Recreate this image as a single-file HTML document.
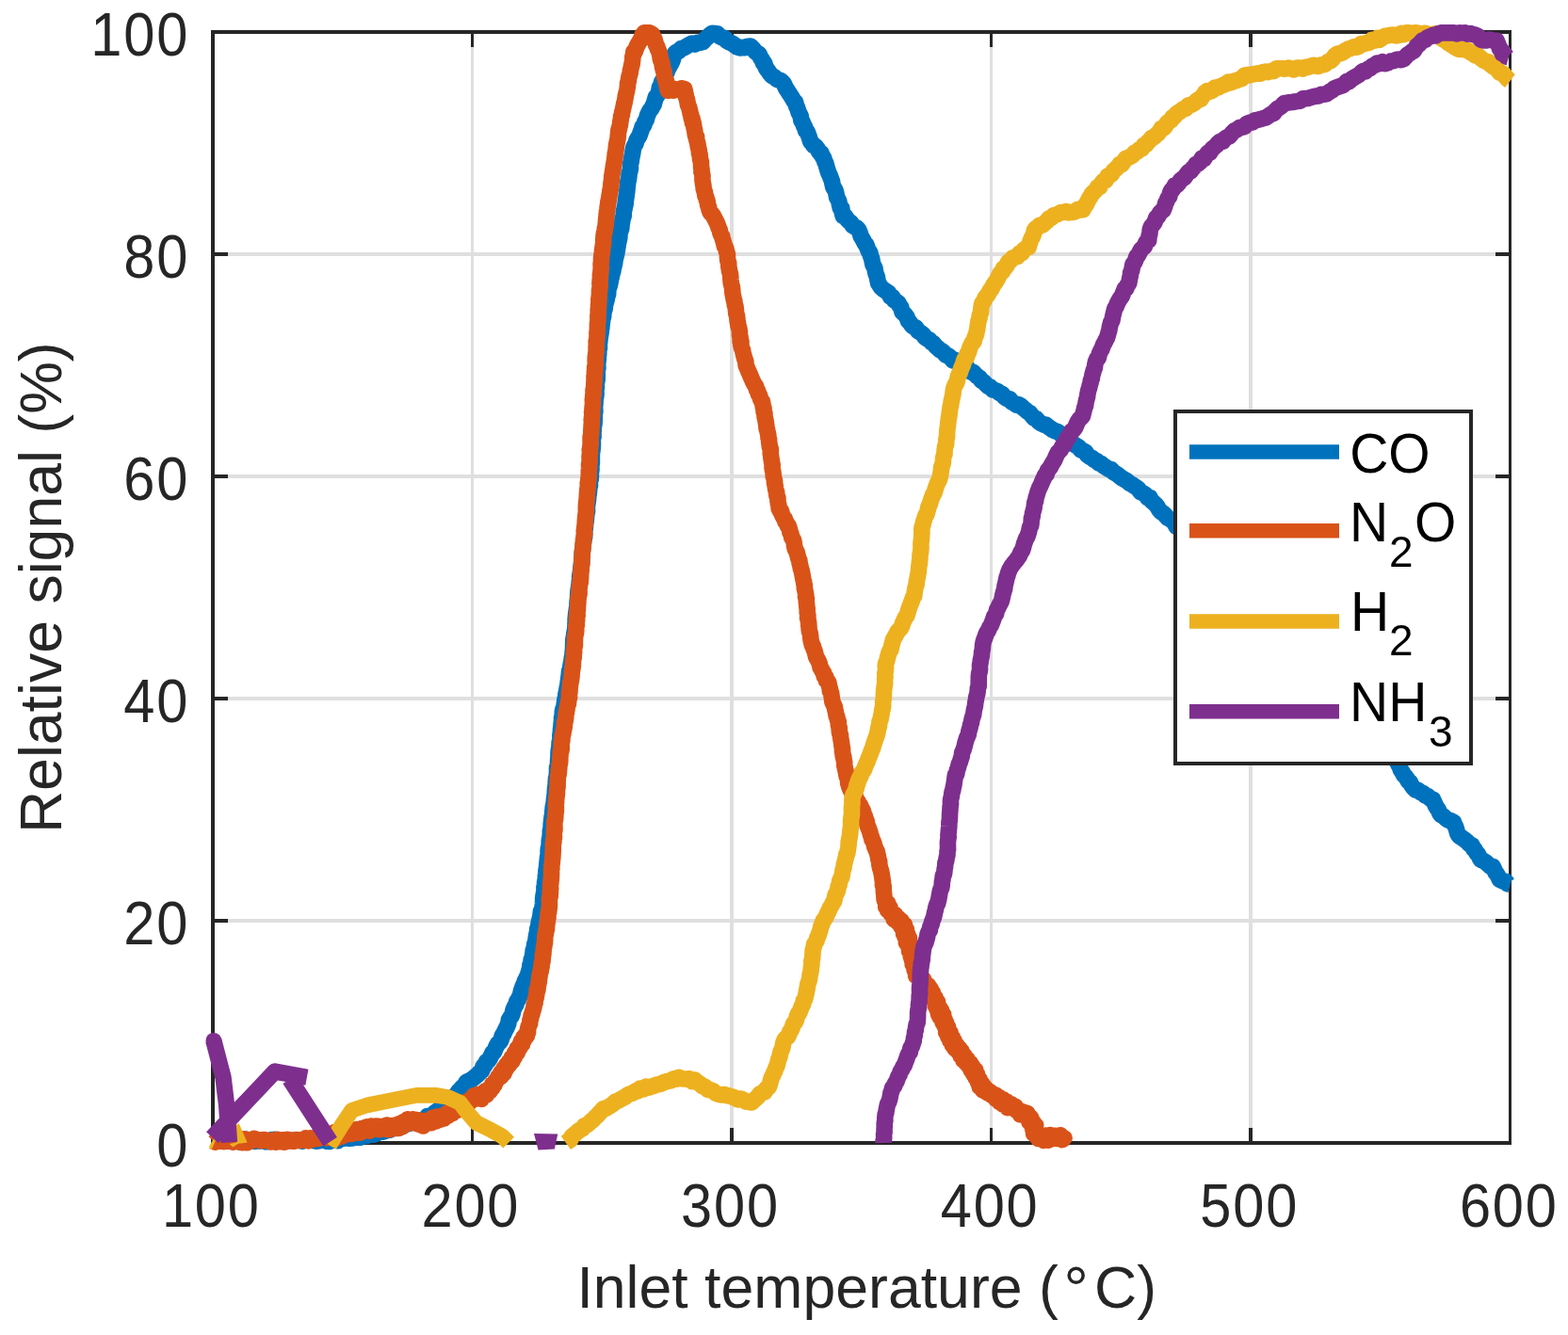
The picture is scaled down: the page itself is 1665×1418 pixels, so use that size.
<!DOCTYPE html>
<html lang="en"><head><meta charset="utf-8"><title>Relative signal vs inlet temperature</title>
<style>html,body{margin:0;padding:0;background:#fff}svg{display:block}text{font-family:"Liberation Sans",sans-serif}</style></head><body>
<svg width="1665" height="1418" viewBox="0 0 1665 1418">
<rect width="1665" height="1418" fill="#fff"/>
<g shape-rendering="crispEdges">
<path d="M500,36h3v1176h-3z M775,36h4v1176h-4z M1051,36h3v1176h-3z M1326,36h4v1176h-4z M228,268h1374v4h-1374z M228,504h1374v4h-1374z M228,740h1374v4h-1374z M228,976h1374v4h-1374z" fill="#dfdfdf"/>
<path d="M500,36h3v14h-3z M500,1198h3v14h-3z M775,36h4v14h-4z M775,1198h4v14h-4z M1051,36h3v14h-3z M1051,1198h3v14h-3z M1326,36h4v14h-4z M1326,1198h4v14h-4z M228,268h14v4h-14z M1588,268h14v4h-14z M228,504h14v4h-14z M1588,504h14v4h-14z M228,740h14v4h-14z M1588,740h14v4h-14z M228,976h14v4h-14z M1588,976h14v4h-14z" fill="#262626"/>
<path d="M224,32h1381v4h-1381z M224,1212h1381v4h-1381z M224,32h4v1184h-4z M1602,32h3v1184h-3z" fill="#262626"/>
</g>
<g fill="#262626" font-size="62.7" letter-spacing="1.9">
<text transform="translate(224.3,1302.8) scale(0.95,1.03)" text-anchor="middle">100</text>
<text transform="translate(499.9,1302.8) scale(0.95,1.03)" text-anchor="middle">200</text>
<text transform="translate(775.5,1302.8) scale(0.95,1.03)" text-anchor="middle">300</text>
<text transform="translate(1051.1,1302.8) scale(0.95,1.03)" text-anchor="middle">400</text>
<text transform="translate(1326.7,1302.8) scale(0.95,1.03)" text-anchor="middle">500</text>
<text transform="translate(1602.3,1302.8) scale(0.95,1.03)" text-anchor="middle">600</text>
<text transform="translate(201.1,1239.4) scale(0.95,1.03)" text-anchor="end">0</text>
<text transform="translate(201.1,1003.4) scale(0.95,1.03)" text-anchor="end">20</text>
<text transform="translate(201.1,767.4) scale(0.95,1.03)" text-anchor="end">40</text>
<text transform="translate(201.1,531.4) scale(0.95,1.03)" text-anchor="end">60</text>
<text transform="translate(201.1,295.4) scale(0.95,1.03)" text-anchor="end">80</text>
<text transform="translate(201.1,59.4) scale(0.95,1.03)" text-anchor="end">100</text>
</g>
<g fill="#262626" font-size="62.6">
<text transform="translate(612.4,1389) scale(1,1.005)">Inlet temperature (</text>
<text transform="translate(1129.5,1392) scale(1,1.005)" font-size="66">°</text>
<text transform="translate(1162,1389) scale(1,1.005)">C)</text>
<text transform="translate(65,624.2) rotate(-90) scale(1,1.005)" text-anchor="middle">Relative signal (%)</text>
</g>
<path d="M226.0,1211.5 L229.0,1211.7 L232.3,1211.4 L235.0,1211.7 L237.8,1211.5 L241.1,1212.3 L243.7,1211.0 L246.7,1212.3 L250.1,1210.3 L253.3,1212.7 L256.1,1211.8 L258.8,1210.2 L262.0,1210.4 L264.7,1210.8 L267.5,1211.4 L270.7,1212.4 L273.7,1211.9 L276.6,1211.9 L279.5,1210.9 L282.8,1212.8 L285.6,1212.0 L288.2,1210.8 L291.1,1210.4 L294.3,1211.2 L297.3,1211.2 L300.3,1212.4 L302.6,1210.7 L306.1,1211.4 L309.1,1211.2 L311.5,1211.8 L314.9,1210.9 L317.4,1211.1 L320.9,1212.2 L323.3,1210.8 L326.2,1210.4 L329.6,1210.7 L332.4,1211.4 L335.1,1212.1 L338.0,1211.9 L340.9,1211.3 L343.9,1210.9 L347.4,1212.3 L349.9,1212.5 L352.8,1210.9 L356.2,1211.2 L358.7,1211.7 L361.8,1209.5 L365.2,1209.3 L367.9,1208.3 L370.7,1209.3 L373.8,1209.0 L376.9,1208.2 L380.3,1208.0 L383.2,1208.2 L386.0,1205.5 L389.6,1206.5 L392.3,1204.1 L395.7,1205.2 L398.5,1204.5 L402.0,1202.8 L404.7,1200.7 L407.5,1202.1 L410.6,1200.7 L413.7,1200.2 L416.9,1198.0 L419.7,1198.3 L422.7,1196.3 L426.0,1197.1 L429.1,1194.8 L432.1,1193.9 L434.4,1193.4 L437.5,1192.2 L440.2,1192.3 L443.3,1190.9 L446.0,1192.2 L449.2,1190.9 L451.7,1188.9 L453.9,1185.6 L456.5,1186.0 L459.6,1184.3 L461.8,1181.7 L464.3,1180.0 L466.5,1178.8 L468.6,1175.7 L471.3,1174.7 L473.5,1172.2 L475.8,1170.9 L477.8,1168.3 L480.4,1166.9 L482.3,1164.8 L484.8,1162.3 L486.8,1159.3 L488.9,1157.4 L490.7,1155.0 L493.4,1153.1 L495.3,1149.3 L498.0,1148.1 L500.4,1147.0 L502.8,1145.1 L505.5,1143.0 L508.4,1140.3 L510.2,1138.5 L511.8,1137.1 L513.2,1132.3 L514.9,1131.5 L516.5,1127.7 L518.6,1126.5 L519.9,1124.6 L521.5,1121.5 L522.9,1118.4 L524.7,1117.2 L526.2,1113.3 L527.5,1110.6 L528.7,1108.6 L530.6,1107.0 L532.0,1104.8 L533.2,1100.2 L534.8,1098.0 L535.8,1095.6 L537.2,1093.0 L538.2,1091.0 L539.8,1087.2 L540.4,1083.3 L542.1,1080.5 L543.2,1079.1 L544.1,1076.8 L545.1,1072.3 L546.6,1069.2 L548.0,1066.9 L548.8,1063.6 L550.2,1061.8 L551.2,1059.6 L552.4,1057.5 L553.4,1052.7 L554.4,1049.8 L555.1,1047.8 L556.7,1044.2 L557.5,1041.8 L558.8,1039.4 L559.8,1037.2 L560.8,1034.5 L562.2,1029.8 L562.8,1028.5 L562.9,1024.9 L563.8,1023.1 L564.2,1019.3 L565.2,1017.0 L565.8,1013.1 L566.2,1009.5 L566.9,1008.2 L567.4,1005.0 L567.8,1002.5 L568.9,999.8 L569.2,996.3 L569.6,993.7 L570.6,989.3 L570.7,986.6 L571.6,984.5 L572.2,979.6 L573.0,976.8 L573.6,974.1 L573.9,972.8 L574.4,968.2 L575.2,966.7 L576.0,963.7 L576.4,960.2 L576.7,956.2 L576.6,954.4 L577.0,952.0 L577.5,948.5 L578.0,945.7 L577.9,942.3 L578.6,940.7 L578.5,937.6 L579.3,933.8 L579.4,930.0 L579.7,927.9 L580.1,923.7 L580.6,922.0 L580.6,919.8 L581.0,916.1 L581.4,912.0 L581.6,910.0 L582.2,908.4 L582.1,904.3 L582.3,901.2 L583.1,899.5 L583.2,895.0 L583.3,892.9 L584.1,888.6 L584.4,885.4 L584.3,883.0 L585.0,880.3 L585.1,878.1 L585.2,875.5 L585.6,871.9 L586.0,868.2 L586.5,865.9 L586.7,862.8 L587.1,859.2 L587.2,857.5 L587.9,854.3 L588.3,851.6 L588.6,847.6 L588.9,846.2 L589.3,842.0 L589.3,840.6 L589.5,837.8 L590.3,832.6 L590.2,831.2 L590.5,826.7 L591.2,824.6 L591.4,820.8 L591.5,819.4 L591.5,815.1 L592.2,814.1 L592.6,809.0 L592.6,807.8 L592.9,804.6 L593.0,800.1 L593.2,797.1 L593.7,795.4 L594.0,791.5 L594.1,788.7 L594.8,787.8 L595.1,782.5 L594.8,781.8 L595.3,778.3 L595.5,774.6 L595.9,771.6 L596.2,767.6 L596.6,766.8 L596.5,762.8 L597.2,759.8 L597.3,756.2 L598.0,752.9 L598.7,752.0 L599.1,749.2 L599.6,745.1 L600.0,742.5 L600.8,740.3 L600.8,737.7 L601.6,734.4 L602.2,730.5 L602.7,728.8 L603.1,725.6 L603.6,721.7 L604.1,718.0 L604.3,716.1 L604.6,712.8 L605.5,710.6 L605.7,708.5 L606.5,704.0 L607.0,701.7 L607.4,698.3 L608.0,696.0 L608.1,693.3 L608.6,688.4 L608.6,687.3 L608.7,683.4 L608.8,679.9 L609.3,676.7 L609.5,675.8 L610.0,671.8 L610.6,669.0 L610.9,666.2 L611.0,661.7 L611.2,660.5 L611.1,658.0 L611.5,653.8 L611.8,650.9 L612.4,646.7 L612.9,644.7 L612.9,642.2 L613.1,638.4 L613.5,636.1 L613.6,633.5 L613.9,628.7 L614.2,625.8 L614.4,624.6 L614.9,621.9 L615.4,616.6 L615.9,615.9 L615.6,612.8 L616.2,608.6 L616.9,605.0 L616.9,603.7 L617.3,599.5 L617.8,597.3 L617.9,592.5 L618.2,590.3 L618.3,586.2 L618.8,583.3 L619.1,581.7 L619.4,577.6 L619.8,575.0 L620.2,572.2 L620.7,570.3 L620.8,565.4 L620.7,564.0 L621.5,560.3 L621.6,556.4 L622.1,554.2 L622.4,551.3 L622.8,547.2 L622.8,546.2 L623.6,543.0 L623.4,537.9 L623.8,535.8 L624.4,532.0 L624.7,528.9 L624.7,527.5 L625.3,524.3 L625.6,520.9 L625.8,517.6 L626.5,515.9 L626.4,511.0 L627.2,509.3 L627.5,505.3 L627.4,502.3 L627.9,499.6 L628.0,498.2 L627.9,494.0 L628.4,491.9 L628.4,487.4 L628.4,485.7 L628.5,480.6 L629.0,478.6 L629.3,475.1 L629.5,471.5 L629.4,469.9 L629.5,466.0 L630.1,463.9 L630.0,459.5 L630.2,457.9 L630.4,453.3 L630.8,451.5 L631.1,449.4 L631.3,445.0 L631.4,441.7 L631.3,438.9 L631.9,437.1 L631.6,432.7 L631.9,429.6 L632.1,426.7 L632.2,424.1 L632.8,421.0 L633.1,418.0 L632.8,415.5 L633.5,411.2 L633.2,408.7 L633.7,405.8 L634.2,403.0 L634.3,398.4 L634.3,397.3 L634.2,392.4 L634.9,391.5 L634.7,387.7 L634.9,385.0 L635.4,380.6 L635.4,379.0 L635.8,375.9 L635.9,371.8 L636.5,369.6 L636.4,366.2 L636.7,363.6 L637.1,359.8 L637.4,357.4 L637.9,354.7 L638.3,351.8 L638.8,348.1 L639.0,345.3 L639.6,341.5 L639.7,337.7 L640.6,336.9 L641.0,331.8 L641.5,329.5 L642.2,327.9 L642.7,323.2 L643.4,321.1 L644.5,316.9 L644.6,314.6 L645.6,312.8 L645.9,307.8 L646.6,305.1 L647.3,303.4 L648.2,299.1 L648.5,296.3 L649.2,294.5 L649.9,291.0 L650.9,287.8 L651.1,285.9 L652.2,281.5 L652.6,280.1 L653.2,275.2 L653.6,274.1 L654.7,269.7 L655.1,267.1 L655.4,265.4 L656.2,260.5 L656.3,258.1 L657.1,256.0 L657.8,252.6 L658.0,248.4 L658.7,245.7 L659.5,243.5 L659.9,241.7 L660.2,237.6 L660.7,235.3 L661.1,232.4 L662.2,229.5 L662.2,225.1 L663.1,221.7 L663.3,219.7 L664.1,217.0 L664.4,213.3 L664.8,210.6 L665.3,206.8 L665.7,204.2 L665.9,202.0 L666.1,199.8 L666.6,195.5 L666.9,192.5 L667.5,190.6 L667.9,187.6 L668.1,183.9 L668.8,182.4 L669.5,178.6 L669.3,174.9 L670.2,171.6 L670.5,169.2 L670.7,167.8 L671.7,162.9 L672.1,160.3 L672.4,158.1 L673.6,154.8 L674.9,152.8 L676.1,148.8 L677.6,146.3 L679.0,144.1 L680.1,140.7 L681.4,137.2 L682.2,134.4 L683.7,133.2 L684.7,129.6 L686.3,127.2 L687.2,123.5 L688.5,120.4 L690.0,117.4 L691.7,115.5 L692.8,113.2 L694.2,110.9 L695.3,106.8 L696.4,103.1 L697.5,102.1 L698.9,99.5 L699.8,96.2 L700.4,92.7 L701.7,90.7 L702.6,87.2 L703.9,85.5 L705.4,82.3 L706.2,80.0 L708.0,76.7 L708.9,73.9 L710.1,71.8 L711.9,68.5 L713.0,66.7 L714.0,64.3 L715.5,59.6 L716.4,57.0 L718.0,55.5 L720.7,54.4 L723.6,51.4 L726.2,51.0 L729.1,49.1 L732.1,47.4 L735.0,46.0 L738.0,47.1 L740.8,45.4 L743.1,45.3 L746.1,44.7 L748.6,42.0 L751.5,39.2 L753.9,37.0 L756.1,35.4 L759.2,35.5 L761.6,35.7 L764.2,38.6 L766.6,40.0 L769.4,40.3 L771.6,43.2 L774.2,44.8 L777.3,46.0 L780.1,48.0 L782.9,50.0 L785.8,51.0 L788.6,50.4 L791.6,50.6 L794.2,49.2 L797.1,49.0 L799.5,51.5 L801.6,54.4 L804.2,56.4 L806.2,57.6 L807.7,61.5 L809.1,63.2 L810.4,66.8 L811.7,67.2 L813.3,72.1 L814.7,74.0 L816.1,75.8 L817.4,77.9 L819.8,80.6 L822.7,82.1 L825.2,84.6 L828.2,85.1 L830.8,87.2 L832.3,88.8 L834.4,93.5 L835.9,95.7 L837.3,98.0 L838.8,100.2 L840.6,103.0 L841.9,105.2 L843.1,107.3 L844.7,108.7 L845.4,112.3 L846.6,114.5 L848.1,119.3 L848.9,120.9 L850.1,123.0 L850.9,128.0 L852.2,129.8 L853.7,133.8 L854.5,134.6 L855.6,139.1 L857.2,140.0 L858.3,143.1 L859.2,145.3 L860.6,150.2 L862.1,151.7 L864.0,154.7 L865.8,155.1 L868.1,158.1 L870.1,161.9 L871.9,162.4 L873.7,166.9 L874.6,167.6 L875.6,171.2 L876.9,173.8 L877.7,176.8 L879.0,181.2 L879.9,183.8 L881.3,186.6 L882.0,188.7 L883.5,192.6 L884.0,195.3 L884.8,199.0 L886.0,200.6 L886.9,202.1 L887.9,205.5 L888.6,209.6 L889.4,211.0 L890.8,213.7 L891.4,217.2 L892.3,220.9 L893.8,221.4 L894.3,226.1 L895.2,229.3 L897.3,229.5 L899.4,232.8 L901.3,234.9 L903.6,236.6 L905.4,239.6 L907.6,240.9 L909.8,242.1 L911.7,244.1 L913.0,247.0 L914.2,251.0 L915.9,253.8 L916.9,255.6 L918.3,258.5 L919.8,259.8 L921.3,264.2 L922.7,267.3 L923.8,268.1 L924.5,271.8 L925.6,274.5 L926.3,278.2 L927.0,281.3 L928.1,283.2 L929.0,285.2 L929.4,288.2 L930.2,291.0 L931.4,294.3 L931.9,297.3 L932.6,300.7 L933.5,302.1 L935.4,305.1 L937.8,307.3 L939.2,308.2 L941.3,309.6 L943.6,311.1 L945.4,315.0 L947.7,315.5 L949.5,319.1 L951.2,319.9 L953.9,321.7 L955.1,324.6 L956.7,326.5 L958.0,331.4 L960.0,333.2 L961.3,334.5 L963.0,336.9 L964.5,341.2 L966.0,342.2 L968.0,345.4 L969.8,346.9 L972.6,348.0 L974.8,351.6 L977.6,353.4 L980.0,355.1 L982.1,358.1 L984.5,359.9 L986.6,360.8 L988.8,363.4 L991.0,364.6 L993.2,367.3 L995.5,369.3 L998.1,371.9 L1000.2,372.7 L1002.1,374.4 L1004.5,377.2 L1006.8,377.8 L1009.2,379.8 L1011.8,382.9 L1014.5,382.6 L1016.8,383.8 L1019.7,385.7 L1022.1,388.1 L1024.7,387.6 L1026.8,390.0 L1028.8,393.3 L1031.2,395.1 L1033.5,395.2 L1035.6,397.8 L1037.6,399.6 L1040.2,401.3 L1042.2,404.3 L1044.5,405.6 L1046.8,408.0 L1049.4,410.6 L1051.5,411.0 L1054.1,413.9 L1056.7,414.6 L1059.5,415.7 L1061.6,417.6 L1064.1,418.4 L1066.5,421.5 L1069.3,423.5 L1072.1,423.8 L1074.3,427.0 L1076.5,428.0 L1079.3,430.2 L1081.9,429.9 L1084.2,431.2 L1086.5,433.5 L1088.7,435.1 L1091.2,437.5 L1093.6,438.7 L1096.0,441.7 L1098.2,444.3 L1100.6,444.9 L1103.0,447.9 L1105.4,449.7 L1108.3,451.1 L1110.8,451.1 L1113.1,453.4 L1115.4,454.9 L1117.9,456.6 L1120.7,457.9 L1123.1,458.7 L1125.4,460.4 L1128.4,462.7 L1130.5,464.8 L1132.9,466.0 L1135.6,469.0 L1137.9,469.8 L1140.8,472.1 L1143.0,473.5 L1145.3,474.7 L1147.6,477.9 L1150.3,478.8 L1152.7,480.0 L1154.6,483.4 L1157.0,485.1 L1159.8,486.7 L1161.8,488.3 L1164.6,489.7 L1166.7,491.9 L1169.5,492.6 L1172.1,495.0 L1174.6,496.4 L1177.1,498.3 L1179.9,498.5 L1182.0,501.3 L1184.4,502.7 L1187.1,504.4 L1189.6,506.6 L1191.5,507.9 L1194.2,509.5 L1196.5,510.6 L1199.2,513.1 L1201.3,514.2 L1203.8,515.8 L1206.4,517.5 L1208.6,519.1 L1211.1,522.6 L1213.6,523.7 L1216.5,525.6 L1218.6,528.5 L1221.1,528.6 L1222.7,531.9 L1225.0,533.9 L1227.0,535.7 L1229.0,538.1 L1230.8,541.5 L1233.1,543.9 L1235.3,545.0 L1237.7,547.7 L1240.2,550.3 L1242.1,551.3 L1244.8,553.1 L1246.8,554.7 L1249.1,559.3 L1251.5,559.4 L1253.4,562.3 L1255.5,564.4 L1257.7,568.1 L1259.3,569.5 L1261.4,570.0 L1263.6,573.9 L1266.1,574.5 L1267.8,576.4 L1270.0,579.8 L1272.0,581.5 L1274.4,585.0 L1276.1,586.0 L1278.5,589.2 L1280.8,590.4 L1282.7,592.9 L1284.8,594.1 L1286.5,596.1 L1289.1,598.7 L1290.9,600.5 L1292.9,602.4 L1295.2,604.9 L1297.3,607.4 L1299.1,610.1 L1301.3,611.7 L1303.2,613.3 L1305.8,616.1 L1307.4,618.0 L1309.7,622.2 L1311.7,624.1 L1313.9,625.1 L1316.2,627.2 L1317.8,629.7 L1320.3,632.1 L1322.2,635.1 L1324.6,637.4 L1326.4,639.1 L1328.7,639.6 L1330.4,641.7 L1332.5,643.7 L1334.8,647.6 L1336.8,649.1 L1338.7,650.5 L1341.4,652.2 L1343.2,656.4 L1345.5,658.4 L1347.3,660.7 L1349.7,662.8 L1351.9,663.2 L1354.0,666.2 L1355.9,667.9 L1358.1,669.5 L1360.0,672.2 L1362.0,674.7 L1364.2,678.1 L1366.1,679.8 L1368.2,681.0 L1370.7,683.3 L1372.2,685.5 L1374.8,687.3 L1376.8,690.4 L1378.9,691.6 L1380.6,693.6 L1382.9,696.6 L1384.7,698.9 L1387.1,700.6 L1389.3,704.4 L1391.1,706.4 L1393.3,708.2 L1395.3,711.0 L1397.6,713.1 L1399.5,713.8 L1401.9,715.4 L1403.7,718.8 L1406.3,720.1 L1407.9,722.3 L1410.5,724.0 L1412.3,726.7 L1414.4,728.5 L1416.5,732.4 L1418.8,733.9 L1420.6,735.9 L1422.5,738.7 L1424.9,739.9 L1427.0,742.0 L1428.9,743.7 L1431.1,746.7 L1433.2,747.5 L1435.3,750.7 L1437.4,753.3 L1439.7,754.3 L1441.5,758.6 L1443.8,759.0 L1445.9,763.0 L1447.7,764.8 L1449.7,767.3 L1452.0,767.5 L1454.3,770.7 L1456.5,773.4 L1458.5,774.7 L1460.7,775.7 L1462.7,779.6 L1464.4,782.0 L1466.6,783.4 L1469.0,784.7 L1470.7,788.0 L1472.6,790.0 L1475.2,792.0 L1476.2,795.5 L1478.0,798.2 L1479.2,801.3 L1480.7,802.1 L1481.9,804.7 L1483.0,808.1 L1485.0,812.1 L1485.9,813.1 L1487.4,817.6 L1489.2,820.3 L1490.5,823.0 L1492.2,824.6 L1494.2,827.4 L1495.4,829.8 L1497.2,830.7 L1498.8,834.0 L1500.6,836.4 L1503.2,839.1 L1505.5,839.2 L1508.5,841.6 L1510.7,842.3 L1513.8,845.2 L1516.1,845.7 L1519.1,848.5 L1521.6,849.2 L1522.7,851.9 L1524.1,855.1 L1525.8,858.1 L1527.2,859.8 L1528.7,863.6 L1530.1,865.5 L1532.6,866.9 L1535.3,869.4 L1537.9,871.1 L1540.8,871.8 L1543.6,873.4 L1544.6,876.5 L1545.5,877.7 L1546.5,880.8 L1547.7,885.1 L1548.7,887.0 L1550.0,888.4 L1552.5,889.9 L1555.4,891.9 L1557.8,893.9 L1560.7,897.0 L1563.2,897.9 L1564.5,901.4 L1566.1,902.6 L1567.9,906.1 L1569.7,907.7 L1571.5,911.8 L1572.6,913.5 L1575.3,914.4 L1577.7,915.8 L1580.3,918.1 L1582.9,920.6 L1585.3,920.6 L1586.7,923.7 L1588.1,926.9 L1589.1,927.9 L1590.8,930.8 L1592.2,934.0 L1593.6,934.8 L1596.0,935.9 L1598.9,936.2 L1600.9,938.8 L1603.6,939.5" fill="none" stroke="#0072bd" stroke-width="17.6" stroke-linejoin="round" stroke-linecap="butt"/>
<ellipse cx="255.6" cy="1219" rx="6.2" ry="2.8" fill="#0072bd"/>
<path d="M226.0,1212.0 L228.3,1213.0 L230.7,1210.1 L232.7,1212.2 L235.2,1211.6 L237.8,1212.7 L240.0,1211.3 L242.2,1212.0 L244.7,1211.7 L247.0,1213.1 L249.5,1211.4 L252.1,1212.4 L254.9,1209.7 L256.8,1213.7 L259.6,1209.9 L262.3,1213.8 L264.3,1210.7 L267.0,1211.8 L269.8,1209.4 L272.6,1210.6 L274.8,1210.7 L277.4,1211.7 L280.1,1210.5 L282.4,1211.1 L285.2,1212.0 L287.8,1212.9 L289.9,1211.0 L292.7,1213.3 L294.7,1210.4 L297.4,1212.7 L300.2,1210.7 L302.2,1213.3 L304.9,1210.6 L307.3,1212.0 L309.9,1211.1 L312.3,1212.2 L314.8,1210.7 L317.2,1211.5 L319.8,1210.7 L322.3,1211.1 L324.7,1208.9 L327.6,1211.9 L329.7,1208.8 L331.0,1210.3 L332.7,1210.0 L334.9,1207.9 L337.4,1209.5 L340.0,1205.9 L342.5,1208.2 L344.5,1205.9 L346.6,1208.7 L347.7,1207.9 L348.6,1207.7 L349.9,1205.2 L351.1,1206.7 L352.9,1208.8 L353.6,1207.3 L354.8,1202.9 L356.1,1206.7 L357.8,1208.8 L358.7,1205.7 L359.7,1202.0 L361.1,1204.0 L363.0,1207.0 L364.4,1203.5 L367.8,1204.9 L368.6,1204.4 L369.4,1201.0 L371.3,1203.8 L372.9,1204.3 L373.6,1203.3 L374.5,1200.2 L375.8,1201.3 L377.7,1203.4 L378.9,1199.7 L382.7,1203.1 L383.5,1201.1 L384.0,1198.5 L387.0,1199.7 L389.2,1196.9 L392.6,1201.2 L393.4,1198.6 L394.3,1196.1 L396.2,1197.4 L397.4,1199.2 L399.7,1196.1 L401.0,1196.3 L402.6,1199.7 L405.6,1196.5 L408.1,1199.1 L409.0,1197.7 L410.7,1195.1 L412.0,1197.7 L412.9,1199.9 L416.0,1195.7 L418.8,1198.7 L419.5,1195.0 L423.1,1198.5 L424.0,1193.6 L425.7,1194.3 L427.8,1196.6 L427.8,1193.1 L428.4,1191.5 L429.9,1192.2 L432.2,1193.2 L432.4,1191.5 L432.9,1188.9 L435.9,1191.2 L438.5,1188.7 L439.6,1192.7 L442.6,1189.6 L443.9,1194.1 L447.0,1190.3 L448.3,1193.0 L449.2,1196.0 L450.5,1192.6 L454.0,1193.1 L454.5,1189.8 L458.5,1192.6 L458.9,1189.8 L459.2,1187.2 L461.0,1189.2 L462.8,1191.0 L463.5,1188.1 L463.5,1186.1 L467.5,1189.2 L467.7,1185.7 L470.1,1187.0 L471.5,1188.1 L471.9,1184.3 L472.6,1183.9 L474.1,1185.3 L475.9,1185.1 L476.0,1182.3 L476.2,1181.4 L478.6,1181.1 L480.7,1182.4 L481.2,1180.8 L480.7,1178.5 L485.2,1179.5 L485.2,1177.7 L485.5,1175.0 L489.5,1176.6 L490.0,1172.3 L492.0,1173.6 L494.3,1174.0 L494.5,1172.2 L494.5,1170.2 L496.6,1171.2 L498.3,1171.4 L499.0,1168.2 L502.8,1168.0 L503.1,1163.8 L506.4,1166.0 L507.4,1162.6 L509.3,1165.2 L511.3,1167.4 L512.6,1162.9 L516.5,1163.1 L515.5,1163.1 L515.2,1158.8 L517.7,1159.5 L519.9,1159.4 L519.1,1156.6 L518.7,1156.7 L522.7,1155.8 L522.7,1151.4 L525.3,1151.9 L526.0,1148.2 L528.7,1146.1 L528.7,1144.1 L532.0,1143.4 L531.7,1139.4 L535.1,1140.2 L534.8,1135.0 L537.8,1135.0 L537.7,1131.1 L540.6,1131.2 L540.3,1127.9 L543.9,1127.3 L543.3,1123.2 L546.4,1122.9 L546.6,1118.2 L549.4,1118.0 L549.1,1114.1 L551.8,1113.0 L551.9,1110.1 L554.4,1109.3 L553.7,1106.1 L556.3,1104.7 L556.0,1101.9 L559.3,1100.6 L558.4,1098.7 L560.6,1096.4 L560.6,1092.7 L561.2,1090.3 L561.6,1089.7 L562.7,1087.0 L562.8,1084.0 L563.5,1082.6 L564.1,1078.5 L564.9,1077.2 L565.5,1074.4 L566.4,1071.9 L567.0,1069.3 L567.3,1066.8 L568.1,1065.5 L568.3,1062.4 L569.1,1060.0 L569.5,1057.8 L570.0,1054.7 L570.2,1051.5 L571.0,1051.0 L571.1,1049.1 L571.9,1044.5 L572.3,1042.8 L572.5,1040.0 L573.0,1037.0 L573.2,1034.7 L573.8,1032.4 L574.2,1031.8 L574.6,1028.4 L575.1,1027.0 L575.1,1022.7 L575.9,1021.9 L576.3,1018.4 L576.3,1015.0 L576.9,1014.0 L577.0,1011.6 L577.2,1008.4 L577.9,1004.8 L578.1,1002.5 L578.5,1001.7 L578.7,998.1 L578.7,995.8 L579.2,993.0 L579.3,991.9 L580.0,988.4 L580.5,986.8 L580.6,983.4 L581.1,980.4 L581.5,977.0 L581.8,975.8 L582.0,974.5 L582.0,970.5 L582.7,968.9 L582.9,966.4 L583.3,964.2 L583.5,960.3 L583.4,957.1 L583.4,954.5 L584.2,952.2 L584.1,949.7 L584.5,948.2 L584.1,946.5 L584.7,944.4 L584.5,940.4 L584.9,937.6 L585.0,936.1 L585.3,934.0 L585.5,930.0 L585.6,927.9 L585.4,924.3 L585.9,922.7 L585.7,920.5 L586.1,917.6 L586.3,915.7 L586.5,914.3 L586.9,910.0 L587.0,907.6 L587.2,904.4 L587.0,904.1 L587.4,901.1 L587.2,897.0 L587.9,894.4 L587.6,892.8 L588.2,890.9 L588.5,888.7 L588.3,886.5 L588.4,881.8 L589.0,881.4 L588.9,877.9 L588.8,874.7 L588.9,871.8 L589.4,871.4 L589.8,867.9 L589.8,865.3 L590.1,863.4 L590.4,861.2 L590.4,858.1 L590.2,855.2 L590.6,851.9 L590.6,850.1 L590.8,848.1 L591.0,846.5 L591.5,842.8 L591.5,840.0 L591.5,838.9 L592.1,835.6 L592.1,831.8 L592.2,829.3 L592.3,827.9 L592.5,824.5 L593.1,822.7 L593.5,819.4 L593.2,819.0 L593.8,815.9 L594.0,812.0 L594.6,810.4 L594.8,807.0 L594.7,805.6 L594.9,804.0 L595.2,799.5 L595.4,797.5 L596.2,796.6 L596.2,793.0 L596.1,791.6 L596.4,787.5 L596.9,786.7 L597.0,782.2 L597.9,779.6 L598.2,777.5 L598.3,775.3 L598.8,774.7 L599.4,771.2 L599.3,767.9 L599.9,767.1 L600.7,762.6 L600.7,762.6 L601.0,757.9 L601.4,757.6 L601.8,754.7 L602.2,752.1 L602.6,749.5 L603.4,747.8 L603.6,745.7 L603.9,743.2 L604.6,740.7 L604.3,736.3 L605.0,735.3 L605.0,732.5 L605.5,727.9 L605.5,725.4 L605.9,725.3 L606.5,722.5 L607.0,718.7 L607.1,716.9 L607.4,712.9 L607.9,710.5 L607.9,709.3 L608.4,707.1 L608.4,703.2 L608.9,700.0 L609.3,698.1 L609.2,695.6 L609.7,692.7 L609.5,689.9 L609.7,688.9 L610.5,684.8 L610.3,683.2 L610.5,680.6 L610.5,678.3 L610.8,674.9 L611.0,674.6 L611.6,672.3 L611.8,669.1 L611.7,665.0 L612.4,664.0 L612.4,660.1 L612.7,658.6 L612.4,655.2 L613.2,653.8 L612.8,649.9 L613.5,648.1 L613.5,645.0 L613.5,643.4 L613.9,640.1 L613.9,638.3 L614.1,634.8 L614.6,632.2 L615.0,631.6 L615.1,629.6 L615.0,625.7 L615.4,622.3 L615.9,619.7 L616.2,618.8 L616.4,614.7 L616.6,614.6 L616.7,611.0 L616.8,608.3 L617.2,606.0 L617.2,603.1 L617.5,601.0 L617.9,599.0 L617.7,596.4 L617.8,593.2 L618.3,591.4 L618.2,587.4 L618.5,586.1 L618.7,583.4 L619.3,580.6 L619.1,578.5 L619.5,575.6 L619.5,573.7 L619.9,572.0 L620.2,568.7 L620.7,567.0 L620.3,564.3 L620.5,561.9 L621.2,557.6 L621.3,555.9 L621.3,553.6 L621.5,551.2 L621.9,547.1 L622.0,546.4 L622.4,543.5 L622.3,540.0 L622.3,539.5 L622.4,537.0 L622.7,533.2 L623.2,529.8 L623.2,529.3 L623.4,525.2 L623.4,524.8 L623.6,521.6 L624.1,518.1 L624.3,516.7 L624.2,513.1 L624.9,510.5 L624.8,508.7 L625.2,507.2 L625.3,504.1 L625.3,500.2 L625.5,498.5 L625.7,495.8 L625.5,493.3 L626.1,491.1 L626.1,487.4 L626.0,485.4 L626.3,482.5 L626.7,480.5 L626.2,477.7 L626.7,476.2 L627.0,472.3 L627.3,471.7 L627.1,468.7 L627.1,464.8 L627.1,464.4 L627.8,460.5 L627.8,458.1 L628.0,454.5 L628.1,452.2 L628.2,450.8 L628.5,448.3 L628.2,446.3 L628.5,443.1 L628.9,441.6 L628.6,437.7 L628.9,436.2 L629.0,433.8 L629.4,430.0 L629.6,428.2 L629.3,424.7 L629.5,423.5 L629.8,419.7 L630.2,418.9 L630.0,415.6 L630.2,413.4 L630.7,410.8 L630.8,406.6 L631.1,404.1 L631.1,403.8 L631.0,400.0 L631.5,398.0 L631.4,394.8 L631.9,393.1 L631.6,390.5 L632.2,387.8 L632.4,384.4 L632.2,383.5 L632.3,379.0 L632.4,378.6 L633.0,374.3 L633.1,371.9 L633.1,369.0 L633.2,368.5 L633.3,365.7 L633.2,362.8 L633.8,360.2 L633.9,358.3 L634.1,356.3 L633.9,354.0 L634.3,350.6 L634.4,348.1 L634.4,345.4 L634.5,343.0 L634.9,341.3 L634.9,338.7 L634.9,335.2 L635.2,333.4 L635.2,331.0 L635.2,328.8 L635.8,325.5 L635.5,324.6 L636.0,320.3 L635.8,318.5 L636.0,316.8 L636.5,312.6 L636.5,309.6 L636.5,308.3 L637.1,305.4 L637.3,302.4 L636.9,301.4 L637.2,297.4 L637.4,295.7 L637.4,291.8 L637.8,290.7 L638.0,286.9 L638.3,285.1 L638.2,283.7 L638.1,280.2 L638.5,278.0 L638.5,274.4 L638.7,272.7 L638.9,271.1 L639.5,268.1 L639.5,265.9 L639.9,263.4 L640.5,259.2 L640.7,258.7 L640.7,254.8 L640.8,253.8 L641.2,249.0 L641.4,247.9 L642.1,246.4 L642.4,241.9 L642.9,241.4 L643.1,239.0 L643.4,236.0 L643.7,231.8 L644.1,229.3 L644.1,228.3 L644.4,225.3 L644.8,222.8 L645.2,219.6 L645.4,218.7 L645.8,214.6 L646.1,214.6 L646.5,211.6 L646.8,209.8 L647.2,206.9 L647.7,204.4 L647.9,202.3 L648.6,199.8 L648.9,195.9 L648.9,194.8 L649.5,191.6 L649.7,187.6 L650.1,185.3 L650.4,183.3 L650.8,180.7 L651.0,179.8 L651.5,175.7 L652.1,173.0 L652.1,172.3 L652.6,169.7 L653.1,165.7 L653.2,163.5 L653.7,161.5 L654.0,159.8 L654.3,156.3 L654.7,153.1 L655.3,151.1 L655.4,149.7 L656.0,147.5 L656.3,143.7 L656.5,141.8 L657.0,137.5 L657.5,136.8 L657.8,134.9 L658.5,132.7 L658.7,129.8 L659.3,126.6 L659.6,123.6 L660.5,121.7 L660.6,119.3 L661.2,117.6 L661.9,114.2 L662.0,113.8 L662.8,109.4 L663.0,109.5 L663.8,105.4 L664.2,103.1 L664.2,102.2 L664.7,100.1 L665.4,97.4 L665.9,95.1 L666.5,90.9 L666.5,88.5 L667.4,86.0 L667.5,84.4 L667.9,81.8 L668.7,79.3 L669.3,77.0 L669.4,75.0 L670.2,71.7 L670.6,69.5 L671.1,68.3 L671.4,65.9 L671.7,64.0 L671.8,60.3 L672.7,58.0 L672.7,55.2 L674.2,54.9 L674.9,52.9 L676.0,49.8 L677.4,47.0 L678.4,45.4 L679.9,42.6 L680.6,42.2 L681.8,37.8 L683.4,37.7 L684.0,34.9 L687.2,34.9 L689.7,34.9 L692.4,36.3 L693.4,39.2 L694.3,39.9 L695.1,41.9 L696.0,45.6 L696.6,47.6 L698.0,50.1 L698.4,52.2 L699.1,53.1 L700.4,56.9 L700.8,58.9 L701.2,62.0 L701.8,64.3 L702.5,65.4 L703.1,67.8 L703.5,71.4 L704.3,73.2 L704.3,74.4 L705.3,77.1 L705.4,80.2 L706.1,83.0 L706.5,84.7 L707.6,86.1 L707.7,88.9 L708.1,90.6 L708.8,93.9 L709.3,96.3 L711.8,95.3 L714.6,96.2 L716.8,94.7 L719.2,95.5 L721.8,95.4 L723.7,93.8 L726.8,94.6 L727.1,95.8 L727.9,99.9 L728.2,100.8 L728.6,103.2 L729.5,105.9 L729.8,107.3 L730.5,111.5 L731.6,113.8 L731.9,114.9 L732.7,118.3 L733.1,120.5 L733.9,122.4 L734.1,125.3 L735.1,126.3 L735.3,130.0 L736.2,130.5 L736.7,133.4 L736.9,135.2 L737.7,138.6 L738.1,141.7 L738.6,144.6 L739.6,145.4 L739.4,147.0 L740.2,150.1 L740.9,152.6 L741.0,154.3 L741.9,158.2 L742.2,159.2 L742.5,162.9 L743.1,164.0 L743.4,167.8 L743.7,169.7 L744.4,171.9 L744.5,175.5 L744.6,177.6 L745.1,180.2 L744.9,182.6 L745.4,183.7 L746.0,186.6 L745.9,189.3 L746.0,191.8 L746.5,195.3 L746.9,196.6 L747.2,200.7 L747.9,202.8 L748.5,204.3 L748.8,207.8 L750.0,209.8 L750.2,211.9 L751.1,213.4 L751.5,217.3 L752.0,218.9 L752.5,219.8 L753.1,222.8 L754.3,225.9 L755.6,226.9 L757.3,229.0 L758.6,231.6 L760.3,234.9 L761.4,237.0 L762.1,238.9 L762.8,241.1 L764.3,244.5 L764.7,246.9 L765.9,249.9 L766.6,250.6 L767.1,252.9 L768.3,257.0 L768.9,259.2 L769.2,261.1 L769.8,261.9 L770.9,264.1 L771.5,267.3 L772.4,269.6 L772.4,273.0 L772.7,276.3 L773.5,278.9 L773.7,279.3 L773.8,283.2 L774.3,285.7 L774.5,287.9 L775.2,289.6 L775.6,291.8 L775.8,294.1 L775.9,296.7 L776.2,300.4 L777.0,303.6 L777.4,304.7 L777.7,307.7 L777.9,311.0 L778.1,312.4 L778.7,315.1 L779.3,319.0 L779.8,319.5 L780.3,323.9 L780.9,325.0 L781.3,328.1 L781.5,330.1 L781.8,333.3 L782.5,335.4 L782.9,338.4 L783.1,341.5 L783.5,342.5 L783.9,346.1 L784.5,347.7 L785.1,350.3 L785.5,352.8 L785.4,356.1 L786.1,358.0 L786.1,362.5 L787.0,363.1 L786.8,366.4 L787.6,369.8 L788.7,372.2 L788.9,373.6 L789.3,375.7 L790.5,380.3 L790.8,381.1 L791.8,383.7 L792.1,387.9 L792.5,389.0 L793.7,391.7 L795.3,395.5 L796.3,397.6 L797.1,399.8 L798.4,402.6 L799.3,404.9 L800.2,406.6 L801.7,409.4 L802.6,410.3 L803.4,413.6 L804.6,415.2 L805.5,418.9 L806.6,420.0 L807.2,422.6 L808.3,425.5 L809.5,426.5 L810.2,431.2 L810.2,432.0 L811.1,433.8 L811.0,437.1 L811.9,438.8 L812.1,443.0 L812.6,444.7 L813.1,447.8 L813.4,449.1 L813.9,452.9 L814.0,455.0 L814.6,456.2 L815.0,458.4 L815.8,462.1 L816.0,465.3 L816.6,466.5 L816.6,469.5 L817.1,472.0 L817.3,474.9 L818.1,475.8 L818.4,478.1 L818.2,481.7 L818.6,483.8 L819.0,487.2 L819.5,490.0 L819.5,490.8 L820.2,493.7 L820.0,496.4 L820.4,499.2 L820.8,500.5 L821.3,504.8 L821.2,505.6 L821.8,507.8 L822.6,510.9 L822.4,512.6 L823.0,515.1 L823.6,519.1 L823.9,520.7 L824.7,522.9 L824.8,526.2 L825.4,527.4 L826.0,529.4 L825.9,531.7 L826.5,535.7 L826.9,536.0 L827.2,540.3 L828.6,543.0 L829.6,543.1 L830.6,547.0 L831.9,549.5 L833.3,550.9 L833.8,554.1 L835.4,555.6 L836.3,558.5 L837.3,558.8 L838.5,562.3 L838.9,565.8 L840.0,567.0 L840.7,570.9 L841.4,572.0 L842.4,573.4 L843.1,576.0 L843.6,579.9 L844.2,582.7 L845.4,585.1 L846.2,586.6 L846.5,587.8 L847.5,591.9 L847.8,593.1 L848.9,595.6 L849.0,597.7 L850.0,601.6 L850.3,603.7 L851.2,606.0 L851.6,608.7 L851.9,609.4 L852.6,613.9 L853.1,616.2 L853.6,618.1 L854.0,621.3 L854.3,621.5 L854.3,624.7 L854.9,627.2 L855.5,630.1 L855.9,633.4 L855.5,633.9 L856.4,635.9 L856.2,638.4 L856.6,641.6 L856.9,645.3 L857.2,646.0 L857.2,650.2 L857.3,651.1 L857.9,653.9 L857.5,656.3 L857.9,657.3 L858.7,661.6 L858.7,664.4 L858.9,664.5 L859.1,668.1 L859.5,670.9 L860.3,672.8 L860.5,674.3 L860.7,676.9 L861.1,680.2 L861.6,682.2 L862.4,685.5 L863.4,686.4 L864.1,689.4 L865.0,691.2 L866.0,695.1 L866.5,697.4 L867.4,699.3 L868.7,701.2 L869.5,703.0 L870.2,705.0 L871.1,709.0 L872.7,711.4 L873.2,713.1 L874.5,714.5 L875.2,718.2 L876.8,719.0 L877.3,722.4 L878.3,722.6 L879.9,725.2 L880.4,728.6 L881.2,730.9 L881.3,733.8 L882.0,734.3 L882.7,736.6 L883.0,739.0 L883.5,742.6 L883.9,745.7 L884.9,747.8 L885.5,749.0 L886.3,750.7 L886.7,753.3 L887.4,756.2 L888.1,760.3 L888.7,761.1 L889.4,764.4 L890.3,766.7 L890.3,769.7 L890.8,772.0 L891.3,773.2 L891.2,775.7 L891.7,779.2 L892.4,779.9 L892.6,783.5 L892.9,785.1 L893.6,789.0 L893.8,791.5 L894.3,794.0 L894.6,795.9 L894.4,797.4 L895.0,801.0 L895.2,803.3 L895.8,804.0 L896.1,806.9 L896.7,809.3 L896.7,813.1 L897.3,815.4 L897.6,816.8 L898.1,818.8 L898.8,822.9 L899.3,825.3 L899.7,825.6 L900.5,828.6 L900.6,832.0 L901.5,834.0 L901.7,835.6 L902.7,838.1 L904.1,840.8 L905.4,842.2 L906.8,843.8 L908.5,846.8 L909.7,850.0 L911.1,851.6 L912.0,854.0 L913.5,855.3 L915.1,859.1 L916.4,861.4 L917.0,863.6 L917.8,866.1 L918.3,866.7 L919.0,869.6 L920.3,872.5 L920.6,875.1 L921.4,877.4 L922.4,880.1 L923.1,881.7 L923.6,883.2 L924.4,886.3 L925.6,889.9 L926.0,891.9 L927.0,893.4 L928.1,896.2 L928.7,899.5 L929.3,900.2 L930.0,902.5 L931.2,904.3 L931.7,907.0 L932.3,909.3 L932.9,913.0 L933.7,914.9 L933.8,918.3 L934.5,921.8 L935.3,924.1 L935.8,926.2 L936.2,928.3 L936.7,931.2 L937.1,934.4 L937.5,936.5 L937.4,939.7 L938.1,940.3 L938.3,943.9 L938.3,945.4 L938.4,947.5 L938.8,950.5 L939.0,954.6 L939.2,955.8 L940.1,958.0 L942.5,958.9 L940.7,963.5 L945.0,963.9 L942.5,966.7 L946.2,968.1 L945.8,970.5 L950.5,971.4 L949.9,972.9 L949.1,976.4 L951.3,974.7 L954.1,975.3 L953.5,979.8 L956.9,977.7 L956.3,983.5 L960.5,982.3 L957.7,985.6 L960.0,988.1 L962.3,987.1 L959.6,992.0 L963.5,991.3 L960.8,995.0 L963.2,995.6 L965.4,996.1 L964.3,999.5 L962.3,1001.2 L966.6,1002.5 L964.8,1005.7 L968.4,1007.1 L965.5,1010.3 L969.5,1010.7 L967.3,1016.0 L971.1,1015.9 L968.2,1019.3 L972.3,1021.4 L970.7,1023.7 L969.2,1024.4 L973.1,1027.2 L971.1,1030.4 L974.9,1031.2 L973.9,1034.4 L972.6,1036.5 L975.2,1034.6 L977.7,1036.1 L976.8,1036.4 L976.1,1038.5 L978.3,1039.9 L980.7,1040.4 L979.4,1041.9 L978.4,1044.6 L982.5,1044.4 L981.1,1047.9 L983.3,1047.7 L985.7,1046.7 L984.8,1048.8 L983.8,1052.5 L988.3,1050.5 L987.1,1054.4 L990.6,1054.5 L989.8,1059.0 L993.0,1059.5 L992.0,1063.1 L995.5,1064.0 L993.4,1068.6 L997.6,1070.1 L994.9,1071.8 L997.1,1073.9 L999.6,1073.5 L998.2,1074.8 L996.5,1077.2 L998.8,1078.2 L1001.6,1077.2 L999.9,1079.2 L998.1,1080.3 L1000.4,1081.5 L1003.0,1082.5 L1001.2,1086.5 L1004.8,1086.6 L1003.1,1089.8 L1006.5,1090.8 L1004.7,1096.6 L1009.2,1097.1 L1006.7,1101.0 L1009.0,1099.8 L1011.2,1101.7 L1009.9,1103.4 L1008.6,1105.2 L1013.2,1105.4 L1011.3,1110.0 L1015.5,1109.5 L1014.7,1110.1 L1013.8,1113.5 L1018.3,1112.9 L1017.2,1116.9 L1021.2,1116.5 L1020.1,1121.7 L1022.0,1120.9 L1024.1,1121.2 L1022.9,1126.1 L1027.0,1125.1 L1026.4,1126.8 L1025.7,1129.0 L1028.0,1129.9 L1030.5,1129.3 L1029.7,1132.0 L1028.5,1132.1 L1032.5,1132.2 L1031.2,1136.9 L1033.4,1136.0 L1035.7,1136.4 L1033.6,1140.8 L1037.5,1141.0 L1036.1,1144.9 L1040.0,1146.2 L1038.6,1149.7 L1042.8,1150.9 L1040.1,1154.3 L1044.8,1153.7 L1043.7,1158.1 L1047.8,1157.1 L1048.5,1160.8 L1051.7,1159.9 L1052.3,1163.1 L1054.5,1162.2 L1057.1,1162.9 L1057.3,1167.2 L1061.0,1165.5 L1061.2,1170.5 L1065.1,1167.7 L1065.0,1173.1 L1069.2,1170.2 L1069.6,1173.2 L1069.7,1176.6 L1073.8,1172.8 L1074.5,1176.7 L1078.2,1175.3 L1079.1,1179.2 L1083.1,1179.8 L1083.2,1183.9 L1086.9,1181.1 L1087.3,1183.7 L1090.9,1182.6 L1091.1,1186.6 L1094.8,1187.4 L1093.7,1188.9 L1093.0,1191.8 L1096.8,1191.6 L1095.2,1194.5 L1097.2,1195.3 L1099.7,1195.2 L1098.4,1196.1 L1096.9,1199.9 L1100.8,1201.8 L1097.6,1204.1 L1101.3,1206.9 L1102.5,1209.5 L1103.9,1208.4 L1106.1,1207.7 L1107.1,1207.9 L1108.2,1211.3 L1110.5,1206.2 L1113.5,1211.1 L1114.4,1208.5 L1115.3,1205.6 L1118.2,1209.5 L1120.8,1206.3 L1123.1,1209.5 L1124.5,1208.4 L1126.0,1205.9 L1127.1,1207.6 L1127.9,1210.6 L1130.6,1208.7" fill="none" stroke="#d95319" stroke-width="17.6" stroke-linejoin="round" stroke-linecap="butt"/>
<circle cx="1130.6" cy="1208.7" r="8.3" fill="#d95319"/>
<path d="M349.8,1216.3 L363.0,1195.1 L373.6,1179.3 L389.5,1174.0 L415.9,1168.7 L442.3,1163.4 L462.1,1163.2 L475.3,1165.4 L488.6,1171.4 L496.5,1181.9 L505.7,1192.5 L521.6,1200.4 L533.5,1207.0 L540.1,1213.6" fill="none" stroke="#edb120" stroke-width="16.6" stroke-linejoin="round" stroke-linecap="butt"/>
<path d="M600.9,1213.8 L603.0,1212.3 L605.4,1210.8 L607.3,1207.2 L609.5,1205.3 L612.1,1203.1 L614.2,1201.3 L616.2,1199.9 L618.8,1198.5 L620.5,1195.6 L622.7,1195.2 L625.4,1193.1 L627.6,1191.0 L629.9,1189.2 L631.7,1187.3 L634.1,1185.1 L636.4,1182.3 L638.6,1180.3 L640.8,1177.5 L643.4,1177.3 L646.1,1175.6 L648.4,1174.3 L650.8,1172.7 L653.6,1170.0 L656.0,1169.4 L658.6,1167.9 L661.5,1166.3 L663.8,1165.1 L666.4,1163.0 L669.0,1161.9 L671.5,1161.2 L674.7,1159.1 L677.1,1159.1 L679.7,1156.1 L683.2,1157.0 L686.1,1154.2 L689.0,1155.1 L692.3,1154.0 L694.9,1153.2 L698.0,1151.9 L700.9,1151.6 L704.2,1150.0 L706.7,1149.0 L709.8,1148.2 L712.5,1147.8 L715.3,1145.9 L718.0,1146.2 L720.8,1144.3 L723.6,1145.8 L726.8,1146.0 L729.3,1146.2 L732.3,1145.7 L734.9,1148.5 L737.8,1147.2 L740.5,1149.7 L743.1,1151.0 L746.0,1153.7 L748.5,1154.1 L751.5,1157.4 L754.3,1157.7 L757.3,1158.9 L759.7,1161.0 L763.2,1162.4 L765.8,1163.0 L769.1,1162.6 L771.9,1163.6 L774.7,1164.2 L777.6,1165.1 L780.4,1166.1 L783.3,1168.0 L786.6,1167.0 L789.6,1168.4 L792.3,1170.2 L795.1,1170.4 L798.1,1171.0 L800.6,1168.7 L802.9,1166.7 L804.8,1164.9 L806.9,1162.0 L809.4,1160.6 L812.0,1159.8 L813.7,1156.4 L816.1,1154.9 L817.3,1152.2 L818.5,1147.3 L819.3,1144.7 L820.9,1141.6 L821.8,1139.3 L822.8,1137.5 L823.8,1134.4 L825.0,1132.1 L825.8,1129.2 L826.6,1125.5 L827.6,1123.4 L828.7,1118.7 L829.1,1117.0 L830.4,1114.1 L831.0,1112.4 L831.9,1107.3 L833.1,1104.6 L834.8,1102.3 L836.2,1101.7 L837.7,1099.0 L838.7,1096.0 L840.3,1093.7 L841.3,1091.3 L842.5,1087.6 L844.5,1085.5 L845.3,1083.7 L846.6,1078.9 L847.5,1076.8 L848.8,1075.7 L849.9,1072.7 L851.4,1068.7 L852.6,1066.8 L853.4,1062.7 L854.5,1061.6 L855.7,1056.9 L856.2,1054.8 L856.6,1052.2 L857.1,1050.1 L857.8,1045.4 L858.6,1043.1 L859.4,1040.8 L859.7,1038.8 L860.0,1035.8 L860.9,1032.1 L861.4,1028.2 L861.7,1025.7 L862.0,1022.9 L861.8,1021.0 L862.7,1017.6 L862.8,1015.6 L863.0,1012.6 L863.1,1009.6 L864.0,1006.5 L864.6,1002.9 L866.0,1001.1 L867.1,999.1 L867.6,996.7 L869.1,993.6 L870.1,990.4 L871.0,987.6 L871.9,983.7 L872.7,982.1 L874.4,977.5 L875.8,976.1 L877.1,973.7 L878.8,969.9 L880.2,967.4 L881.4,964.3 L883.1,961.6 L884.5,958.5 L885.7,957.2 L886.6,953.0 L887.1,950.4 L888.3,948.5 L889.4,946.1 L890.1,941.8 L891.1,939.9 L891.7,935.7 L892.7,933.2 L893.7,932.0 L894.3,929.1 L895.0,924.4 L896.1,921.3 L896.2,918.5 L896.9,916.4 L897.6,913.0 L898.2,911.6 L898.8,907.5 L899.8,906.4 L900.3,903.1 L900.7,900.5 L901.2,896.0 L901.1,894.4 L901.8,891.3 L902.4,887.6 L902.7,885.5 L902.9,882.2 L903.3,880.2 L903.6,878.2 L903.6,874.8 L903.6,871.7 L903.8,869.4 L904.5,865.0 L904.5,862.0 L904.4,858.8 L904.6,855.9 L904.9,854.3 L904.9,851.7 L904.9,847.9 L906.0,844.3 L907.3,841.9 L907.7,841.1 L909.2,837.5 L909.9,834.0 L910.6,832.4 L911.7,828.7 L913.1,825.7 L913.7,825.0 L915.2,820.6 L916.4,819.1 L917.5,817.4 L918.8,813.8 L920.0,810.9 L921.0,809.1 L922.3,805.2 L923.1,803.6 L924.5,800.0 L925.4,797.3 L926.5,795.1 L927.5,791.4 L928.6,788.0 L929.4,785.9 L930.5,782.8 L931.6,779.4 L932.3,775.4 L932.8,773.0 L933.5,771.2 L933.9,766.8 L935.0,764.1 L935.7,760.3 L936.2,758.0 L936.7,754.0 L937.2,753.0 L937.7,749.4 L937.7,745.0 L938.1,743.1 L938.4,740.5 L938.4,738.2 L938.5,735.4 L938.7,732.4 L939.3,728.1 L939.7,725.2 L939.6,721.0 L940.0,719.5 L939.8,715.1 L940.1,714.3 L940.6,710.0 L940.2,708.0 L940.5,704.7 L941.7,702.3 L942.4,698.9 L943.8,693.8 L944.7,691.6 L945.8,690.3 L946.7,686.1 L947.7,682.4 L948.6,679.1 L950.2,676.3 L951.6,673.9 L953.0,670.9 L954.2,669.8 L956.1,667.8 L957.5,665.4 L958.6,661.8 L960.4,657.9 L961.6,655.4 L962.8,654.2 L963.9,651.0 L964.5,648.7 L965.8,644.6 L966.8,642.1 L967.6,640.0 L968.9,636.4 L969.7,634.1 L970.8,632.9 L971.1,629.7 L971.8,625.3 L972.3,623.2 L973.2,620.3 L973.3,617.8 L974.2,613.8 L974.6,610.9 L975.4,607.4 L975.4,606.0 L975.9,600.9 L976.5,598.0 L976.4,596.3 L976.9,594.0 L976.9,590.2 L977.6,586.9 L977.8,583.9 L978.0,582.2 L977.9,578.6 L978.0,576.0 L978.5,572.9 L978.7,569.2 L978.9,565.1 L978.8,561.9 L979.0,560.5 L979.8,558.0 L980.8,553.5 L981.7,551.6 L982.8,547.4 L983.7,546.9 L984.8,543.3 L985.8,538.9 L986.9,536.4 L987.6,534.6 L988.9,530.1 L990.1,527.3 L990.6,525.3 L992.1,523.5 L993.1,519.9 L994.3,516.3 L995.4,513.2 L996.0,512.2 L997.5,509.2 L998.2,506.9 L999.0,502.1 L999.2,501.1 L999.7,496.0 L1000.5,494.7 L1001.3,491.5 L1001.7,486.3 L1002.3,483.7 L1003.0,482.7 L1003.0,479.1 L1003.6,474.4 L1004.6,472.2 L1004.8,469.5 L1004.9,466.0 L1005.6,464.0 L1005.6,460.9 L1005.9,456.0 L1006.4,452.7 L1006.6,450.8 L1007.1,446.5 L1007.5,443.2 L1007.9,442.2 L1008.3,438.0 L1008.7,435.0 L1009.2,431.7 L1009.7,430.2 L1010.3,425.8 L1010.6,425.0 L1011.2,422.1 L1011.9,418.8 L1012.2,415.8 L1012.7,412.8 L1014.1,409.0 L1014.7,408.2 L1016.2,405.2 L1017.2,400.5 L1018.2,397.7 L1019.3,395.6 L1020.1,393.1 L1021.0,390.4 L1022.5,387.3 L1023.3,384.3 L1024.4,381.2 L1026.2,380.2 L1027.2,375.6 L1028.5,374.3 L1029.7,369.7 L1031.1,366.6 L1032.3,364.2 L1034.0,363.2 L1035.0,358.7 L1036.6,355.2 L1036.8,353.7 L1037.6,350.3 L1038.1,346.6 L1038.5,344.1 L1039.0,340.9 L1040.0,337.9 L1040.2,335.5 L1040.6,334.1 L1041.7,331.8 L1041.8,327.8 L1042.4,323.8 L1042.9,322.3 L1044.6,320.0 L1046.3,316.0 L1048.2,314.0 L1049.4,312.2 L1051.2,308.7 L1052.9,306.7 L1054.7,302.9 L1056.1,301.0 L1058.0,298.2 L1059.6,295.6 L1060.9,292.6 L1062.4,289.8 L1064.5,288.4 L1065.5,285.1 L1067.4,284.3 L1069.2,281.8 L1070.5,278.5 L1073.3,276.5 L1075.5,273.8 L1077.8,273.1 L1080.5,272.4 L1082.8,268.9 L1085.3,268.6 L1087.2,265.4 L1089.9,263.3 L1092.1,262.6 L1093.1,259.3 L1094.0,256.3 L1095.7,252.3 L1096.2,251.9 L1097.7,248.1 L1098.3,244.8 L1099.7,242.8 L1101.9,241.5 L1104.0,239.2 L1106.9,239.0 L1109.1,237.1 L1111.7,234.9 L1113.7,232.2 L1116.4,231.3 L1118.7,228.9 L1121.4,228.0 L1123.6,227.3 L1126.3,225.7 L1129.4,225.5 L1132.0,224.6 L1134.9,225.9 L1138.0,225.4 L1141.2,225.0 L1144.0,222.6 L1146.7,223.0 L1150.0,222.7 L1151.8,218.6 L1153.2,217.5 L1155.0,213.8 L1156.6,210.6 L1158.0,208.8 L1159.5,205.8 L1161.5,203.9 L1163.7,201.7 L1165.6,198.8 L1167.9,198.6 L1170.2,194.1 L1172.2,191.7 L1174.1,191.6 L1176.2,187.0 L1178.5,186.1 L1180.5,184.9 L1182.6,181.3 L1184.6,179.7 L1187.0,177.4 L1188.9,174.6 L1191.3,174.4 L1193.3,171.5 L1195.5,168.3 L1197.7,167.7 L1200.7,166.2 L1202.9,164.8 L1205.1,161.9 L1207.4,161.2 L1210.1,158.6 L1212.6,157.9 L1214.5,154.3 L1216.8,153.7 L1218.7,151.1 L1221.1,148.8 L1223.1,146.3 L1225.0,145.9 L1227.4,143.6 L1229.3,142.1 L1231.4,139.5 L1233.2,136.5 L1235.6,136.1 L1237.5,134.0 L1239.4,130.4 L1241.4,129.0 L1243.4,127.9 L1245.1,124.5 L1247.2,123.7 L1249.0,120.9 L1251.1,119.6 L1253.3,118.3 L1256.2,115.8 L1259.2,115.5 L1261.9,111.7 L1265.2,111.3 L1267.7,109.8 L1270.4,107.4 L1272.8,105.6 L1275.0,105.4 L1277.6,101.3 L1279.4,98.6 L1281.9,96.5 L1284.4,97.2 L1287.5,96.0 L1290.1,93.0 L1293.2,93.2 L1295.7,91.6 L1298.8,90.4 L1301.5,89.2 L1304.2,87.1 L1307.0,87.9 L1309.9,86.3 L1312.6,85.7 L1315.4,84.4 L1318.6,83.5 L1321.6,80.0 L1323.9,79.5 L1326.7,79.9 L1329.6,78.9 L1332.9,78.5 L1335.8,77.9 L1338.2,78.2 L1340.9,76.6 L1343.9,76.1 L1346.6,76.6 L1349.9,75.4 L1352.4,75.6 L1355.5,72.7 L1358.6,72.7 L1361.2,72.8 L1364.5,73.2 L1368.0,72.1 L1371.0,72.9 L1373.8,73.9 L1377.4,72.0 L1380.5,72.1 L1383.5,73.1 L1386.3,71.3 L1388.8,71.2 L1391.9,70.3 L1394.7,69.3 L1397.4,70.1 L1400.3,70.4 L1403.0,68.9 L1406.2,68.5 L1408.0,67.5 L1410.4,65.4 L1413.1,64.4 L1415.2,62.5 L1417.5,58.9 L1420.4,57.1 L1422.7,56.9 L1425.5,55.9 L1428.6,53.7 L1431.5,52.1 L1434.2,51.4 L1437.3,49.9 L1439.7,50.3 L1442.5,49.5 L1445.2,46.5 L1448.0,46.7 L1451.1,45.6 L1453.9,45.4 L1456.6,42.4 L1459.4,43.2 L1462.6,40.6 L1464.9,42.2 L1468.4,39.6 L1470.9,38.3 L1473.7,37.9 L1476.7,37.2 L1479.4,37.0 L1482.2,37.9 L1485.0,37.6 L1488.0,35.4 L1490.5,36.7 L1493.6,34.9 L1496.5,34.9 L1499.1,36.0 L1502.2,34.9 L1504.5,34.9 L1507.6,35.9 L1510.5,35.7 L1513.4,35.3 L1515.9,36.5 L1518.9,37.0 L1522.0,36.3 L1524.4,35.7 L1527.4,37.9 L1530.0,40.1 L1533.1,42.2 L1535.8,43.8 L1538.7,46.2 L1541.5,47.8 L1544.1,49.6 L1546.8,51.2 L1549.6,52.5 L1552.6,52.2 L1555.7,52.9 L1558.5,53.6 L1561.0,55.3 L1564.0,56.8 L1566.7,59.1 L1569.3,59.0 L1572.4,61.8 L1575.4,64.2 L1578.0,65.3 L1580.6,65.9 L1582.7,68.5 L1585.2,70.6 L1587.3,71.7 L1589.7,73.2 L1592.4,77.2 L1594.6,77.4 L1596.8,78.9 L1598.8,81.4 L1601.3,84.3 L1603.5,86.0" fill="none" stroke="#edb120" stroke-width="17.6" stroke-linejoin="round" stroke-linecap="butt"/>
<path d="M222.1,1217.7 L227.1,1209.1 L229.3,1210.5 L225,1220.6 L222.8,1220.6 Z M250.9,1194.7 L253.8,1193.2 L262.5,1213.4 L252.4,1214.9 L247.3,1218.5 L243.7,1214.9 L250.9,1213.4 Z" fill="#edb120"/>
<path d="M226.7,1104.7 L237.0,1144.2 L240.6,1173.8 L243.5,1213.3 M225.4,1208.3 L291.9,1138.1 L325.9,1144.2 M307.7,1146.2 L350.6,1212.8" fill="none" stroke="#7e2f8e" stroke-width="17.4" stroke-linejoin="round" stroke-linecap="butt"/>
<path d="M567,1204 L592.3,1204.6 L588.8,1220.6 L571.5,1221.6 Z" fill="#7e2f8e"/>
<path d="M938.2,1214.0 L938.1,1211.6 L938.7,1209.3 L938.6,1204.5 L939.1,1202.7 L939.0,1199.8 L939.2,1197.1 L939.2,1192.7 L939.9,1190.1 L939.7,1188.3 L940.1,1183.7 L940.8,1182.2 L941.2,1179.3 L941.9,1175.7 L942.6,1172.5 L943.9,1170.2 L944.7,1167.5 L945.1,1165.8 L945.9,1161.0 L946.6,1159.5 L947.7,1155.3 L949.6,1153.6 L950.5,1150.6 L952.0,1148.7 L953.6,1144.1 L955.2,1141.2 L956.2,1138.2 L957.9,1135.6 L959.2,1132.7 L960.3,1131.5 L961.5,1128.0 L962.6,1125.2 L963.8,1121.5 L964.9,1119.0 L966.2,1118.0 L966.9,1113.1 L968.4,1111.4 L969.1,1108.9 L970.3,1105.4 L970.4,1102.9 L971.4,1099.3 L971.5,1096.3 L972.3,1094.2 L972.6,1091.2 L973.1,1088.2 L974.2,1086.0 L974.4,1084.1 L974.6,1079.2 L974.6,1075.8 L974.9,1072.8 L975.6,1069.7 L975.4,1067.5 L976.0,1063.5 L976.2,1060.5 L976.2,1057.9 L976.7,1055.2 L976.5,1052.2 L976.6,1047.9 L977.1,1045.1 L977.2,1041.3 L977.4,1038.9 L977.2,1036.6 L977.5,1031.9 L977.7,1028.4 L978.0,1027.2 L978.4,1023.2 L978.9,1021.1 L979.3,1018.9 L979.5,1015.0 L980.0,1011.6 L980.3,1008.8 L980.9,1006.0 L981.8,1003.4 L982.7,1001.7 L983.4,999.6 L984.5,995.8 L985.0,992.5 L986.0,989.9 L987.4,988.1 L987.7,984.8 L989.2,981.6 L989.5,979.6 L990.5,977.1 L991.7,973.9 L992.6,969.1 L993.3,966.9 L993.7,964.3 L994.9,960.5 L995.6,959.7 L996.5,956.2 L996.9,954.5 L997.5,950.9 L998.3,946.4 L999.1,944.2 L999.7,943.2 L1000.2,940.2 L1000.4,936.3 L1000.9,934.7 L1001.3,929.9 L1002.4,928.8 L1002.8,926.4 L1003.1,923.2 L1003.6,920.6 L1003.9,916.5 L1004.7,914.6 L1005.1,911.5 L1006.0,908.0 L1006.0,904.2 L1006.6,902.2 L1006.5,899.1 L1006.4,895.2 L1006.7,892.1 L1007.2,888.9 L1006.9,887.3 L1007.4,881.9 L1007.6,880.5 L1007.8,877.8 L1007.9,873.5 L1008.3,871.7 L1008.5,867.7 L1008.5,866.1 L1008.7,863.0 L1008.9,860.5 L1009.1,856.9 L1009.6,853.6 L1009.4,851.5 L1009.6,849.2 L1010.3,846.4 L1011.0,841.4 L1011.7,839.8 L1012.2,836.7 L1012.8,834.5 L1013.3,831.1 L1013.8,827.3 L1014.4,823.3 L1015.7,822.3 L1016.4,818.0 L1017.4,815.5 L1018.2,811.9 L1019.4,809.4 L1020.0,807.1 L1021.3,803.0 L1021.6,799.7 L1023.1,796.3 L1023.5,795.0 L1024.3,792.1 L1025.3,787.9 L1026.5,784.2 L1027.5,782.0 L1028.4,779.9 L1028.8,777.0 L1030.1,772.5 L1030.7,769.4 L1031.4,767.9 L1032.0,764.3 L1032.6,762.1 L1033.7,759.1 L1034.1,755.8 L1034.8,752.3 L1035.4,750.2 L1035.8,746.1 L1036.5,742.9 L1036.7,740.6 L1037.8,736.8 L1038.2,733.8 L1038.3,731.1 L1039.2,728.9 L1039.2,724.0 L1039.3,720.9 L1039.3,718.8 L1039.7,715.1 L1040.1,713.9 L1040.6,711.2 L1040.5,706.3 L1041.1,703.9 L1041.2,701.9 L1041.8,699.3 L1042.4,696.3 L1042.5,693.3 L1043.3,689.6 L1043.6,685.4 L1044.1,682.2 L1045.0,679.1 L1045.7,677.8 L1046.9,674.0 L1048.1,671.4 L1049.2,670.1 L1050.8,666.3 L1052.2,664.3 L1052.9,662.6 L1054.1,659.6 L1055.7,654.8 L1056.8,653.2 L1057.6,651.9 L1058.7,647.4 L1059.5,646.4 L1060.8,643.3 L1062.0,641.3 L1063.3,638.6 L1064.0,635.8 L1065.0,631.1 L1065.9,627.9 L1066.7,625.6 L1067.0,622.5 L1067.6,620.1 L1068.6,615.8 L1069.0,613.4 L1070.0,610.9 L1070.4,609.1 L1072.0,605.0 L1073.7,602.0 L1075.6,599.4 L1077.1,597.5 L1079.0,595.3 L1080.5,593.2 L1082.4,590.5 L1084.0,586.5 L1085.4,584.9 L1086.5,581.6 L1087.5,577.6 L1088.3,575.6 L1089.6,572.0 L1090.9,569.9 L1092.1,566.4 L1092.7,564.1 L1093.6,559.8 L1094.8,558.0 L1095.1,555.2 L1095.4,550.2 L1096.1,549.7 L1096.5,545.3 L1097.4,542.1 L1098.2,539.0 L1098.2,538.4 L1098.8,533.6 L1099.6,532.4 L1100.1,528.7 L1101.0,526.0 L1102.3,521.6 L1103.4,518.8 L1104.8,516.0 L1105.6,514.2 L1107.2,510.3 L1108.5,507.7 L1109.6,504.8 L1111.1,504.0 L1112.4,499.9 L1113.3,498.7 L1115.3,496.2 L1116.7,493.4 L1118.5,490.6 L1120.0,488.0 L1121.6,484.1 L1123.2,480.9 L1124.9,479.1 L1126.2,477.8 L1128.1,473.9 L1130.0,473.0 L1131.3,469.4 L1132.6,466.4 L1134.9,464.2 L1136.6,460.4 L1137.6,457.9 L1139.3,457.1 L1141.6,454.5 L1143.0,451.0 L1144.5,447.8 L1146.2,445.2 L1148.1,443.7 L1149.5,441.9 L1150.2,439.1 L1151.1,435.7 L1151.7,432.9 L1152.6,431.0 L1153.0,428.1 L1153.5,425.2 L1154.6,421.6 L1154.8,419.4 L1155.6,415.2 L1156.7,411.7 L1157.2,409.3 L1158.1,406.4 L1158.3,404.3 L1159.3,402.2 L1159.9,398.2 L1160.6,396.0 L1161.3,393.2 L1162.4,390.7 L1162.8,387.4 L1163.4,384.5 L1165.1,380.5 L1166.3,380.1 L1167.4,375.7 L1168.9,372.4 L1169.9,370.8 L1171.3,366.8 L1172.4,364.8 L1174.1,361.3 L1175.3,359.3 L1176.3,356.2 L1177.3,352.5 L1177.9,350.7 L1178.3,347.7 L1179.0,344.9 L1179.6,342.5 L1180.9,340.5 L1181.7,336.0 L1182.3,333.5 L1182.9,330.9 L1183.7,327.9 L1185.2,325.5 L1186.5,322.2 L1187.8,319.8 L1189.0,317.6 L1190.5,315.6 L1191.6,313.9 L1192.9,310.2 L1194.3,306.7 L1195.8,306.3 L1197.0,303.1 L1198.8,300.9 L1199.6,295.9 L1200.4,292.7 L1200.6,289.8 L1201.7,287.5 L1202.4,283.4 L1203.0,280.5 L1204.7,278.7 L1205.9,275.8 L1206.9,272.4 L1208.3,271.5 L1209.9,268.4 L1211.6,265.1 L1213.3,263.6 L1215.2,262.0 L1216.5,258.3 L1218.0,256.0 L1219.8,255.2 L1220.1,250.4 L1220.9,248.5 L1221.2,244.2 L1222.1,241.4 L1222.8,240.2 L1224.3,238.6 L1226.1,236.0 L1227.7,231.3 L1229.6,230.0 L1231.5,226.5 L1233.3,224.5 L1235.2,223.3 L1236.9,218.9 L1237.6,216.1 L1239.1,213.2 L1240.1,210.5 L1241.8,208.7 L1242.5,205.0 L1243.8,202.1 L1245.3,201.4 L1247.4,197.1 L1249.4,197.0 L1251.4,194.7 L1253.3,191.9 L1255.9,189.6 L1257.6,188.8 L1260.2,185.0 L1262.2,182.5 L1264.2,181.9 L1266.2,179.2 L1268.4,177.1 L1269.9,174.4 L1271.9,174.1 L1273.9,172.5 L1276.2,168.2 L1278.7,168.5 L1280.4,165.4 L1282.6,162.3 L1284.7,162.2 L1287.0,158.4 L1289.1,156.5 L1291.8,154.3 L1293.5,151.9 L1296.0,150.0 L1298.5,150.3 L1300.6,147.3 L1303.4,145.5 L1305.5,144.8 L1308.4,141.2 L1310.7,138.9 L1313.1,137.9 L1316.0,135.7 L1318.3,135.2 L1321.3,134.8 L1323.9,131.5 L1326.8,130.2 L1330.1,129.9 L1332.4,127.9 L1335.3,127.3 L1338.1,126.7 L1340.9,125.8 L1344.2,125.0 L1346.5,123.3 L1349.8,121.2 L1352.7,120.3 L1354.2,117.6 L1356.8,115.2 L1358.7,114.2 L1360.8,112.8 L1363.7,109.5 L1366.4,109.2 L1369.5,108.7 L1372.2,108.5 L1374.9,108.0 L1377.6,107.6 L1380.6,107.3 L1383.6,104.8 L1386.4,104.6 L1389.4,104.4 L1391.7,103.5 L1394.7,102.7 L1397.4,102.1 L1400.4,101.9 L1403.1,100.2 L1405.7,100.2 L1408.5,99.8 L1411.6,97.6 L1414.4,96.1 L1417.0,93.7 L1420.1,92.6 L1422.9,91.7 L1426.0,90.7 L1427.8,89.1 L1430.4,86.2 L1432.9,86.5 L1435.6,83.7 L1438.1,82.3 L1440.0,81.2 L1442.9,79.5 L1445.0,77.5 L1447.4,75.5 L1449.8,76.0 L1452.7,73.3 L1455.1,72.4 L1457.5,69.9 L1459.9,69.2 L1462.3,67.0 L1465.3,67.6 L1467.9,65.8 L1471.0,67.6 L1473.8,66.7 L1476.7,65.1 L1479.4,64.8 L1482.5,63.4 L1485.3,63.0 L1487.7,63.7 L1490.3,62.8 L1492.5,60.5 L1494.7,57.9 L1496.5,56.9 L1498.9,54.9 L1501.2,54.1 L1502.6,51.9 L1504.6,48.7 L1506.8,47.0 L1508.4,45.4 L1510.2,43.1 L1513.5,42.2 L1515.8,39.9 L1518.6,38.8 L1521.6,37.3 L1524.5,38.0 L1527.4,35.6 L1529.9,34.9 L1533.1,34.9 L1535.8,34.9 L1538.7,34.9 L1541.4,34.9 L1544.2,34.9 L1547.1,35.9 L1549.7,34.9 L1552.5,35.0 L1555.8,34.9 L1558.0,36.1 L1561.2,35.6 L1564.1,36.4 L1567.1,37.4 L1569.7,38.5 L1572.2,42.1 L1575.6,42.9 L1578.1,43.0 L1580.8,42.0 L1583.6,42.5 L1586.5,43.4 L1589.3,43.3 L1590.7,47.0 L1591.5,48.9 L1592.5,51.7 L1594.0,53.0 L1595.2,56.7 L1597.6,57.2 L1599.4,60.0 L1602.0,60.7" fill="none" stroke="#7e2f8e" stroke-width="17.6" stroke-linejoin="round" stroke-linecap="butt"/>
<circle cx="226.9" cy="1105.3" r="8.4" fill="#7e2f8e"/>
<rect x="1248" y="437" width="314" height="374" fill="#fff" stroke="#262626" stroke-width="4" shape-rendering="crispEdges"/>
<path d="M1263,480 H1422" stroke="#0072bd" stroke-width="15.5" fill="none"/>
<path d="M1263,563.8 H1422" stroke="#d95319" stroke-width="15.5" fill="none"/>
<path d="M1263,660 H1422" stroke="#edb120" stroke-width="15.5" fill="none"/>
<path d="M1263,755.8 H1422" stroke="#7e2f8e" stroke-width="15.5" fill="none"/>
<g fill="#000">
<text transform="translate(1433.2,502.4) scale(1,1.052)" font-size="57">CO</text>
<text transform="translate(1433.1,575.1) scale(1,1.052)" font-size="57">N</text>
<text transform="translate(1475.0,602.0) scale(1,1.0)" font-size="46">2</text>
<text transform="translate(1502.0,575.1) scale(1,1.052)" font-size="57">O</text>
<text transform="translate(1434.1,670.1) scale(1,1.052)" font-size="57">H</text>
<text transform="translate(1475.0,696.2) scale(1,1.0)" font-size="46">2</text>
<text transform="translate(1433.1,766.0) scale(1,1.052)" font-size="57">NH</text>
<text transform="translate(1517.0,793.3) scale(1,1.0)" font-size="46">3</text>
</g>
</svg></body></html>
